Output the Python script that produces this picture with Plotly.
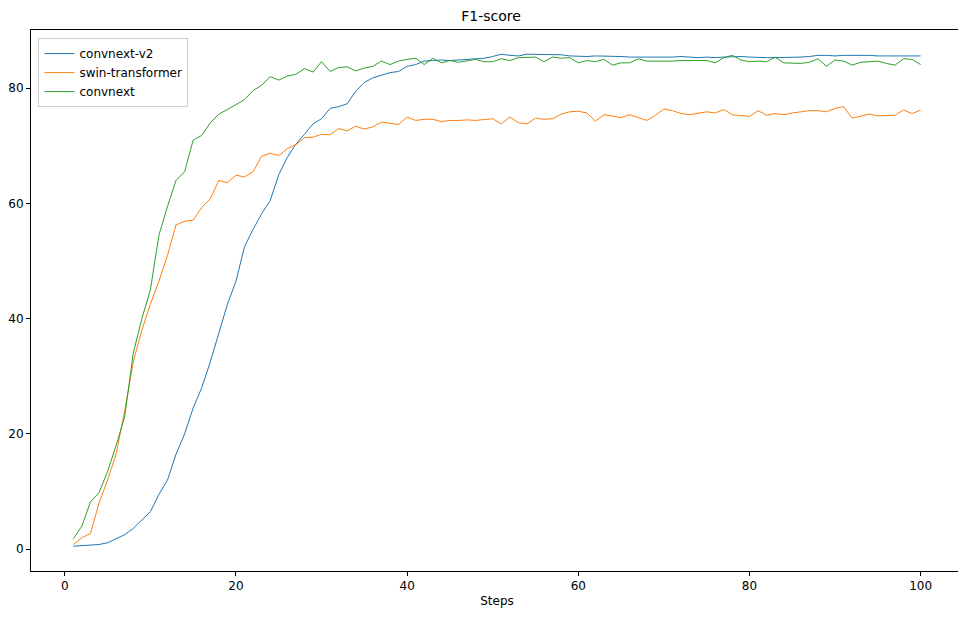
import plotly.graph_objects as go

steps = list(range(1, 101))
convnext_v2 = [0.5,0.6,0.7,0.8,1.1,1.8,2.5,3.6,5,6.5,9.5,12,16.5,20,24.5,28,32.5,37.5,42.5,46.5,
 52.5,55.5,58.2,60.5,65,68,70.3,72,73.8,74.7,76.5,76.8,77.3,79.5,81,81.8,82.3,82.7,82.9,83.8,
 84.1,84.7,84.8,84.9,84.8,84.9,85,85,85.2,85.5,85.9,85.7,85.6,85.9,85.9,85.8,85.9,85.8,85.6,
 85.5,85.5,85.6,85.6,85.5,85.5,85.4,85.4,85.3,85.4,85.4,85.4,85.5,85.4,85.3,85.4,85.3,85.4,85.5,85.5,
 85.4,85.3,85.3,85.3,85.3,85.3,85.4,85.5,85.7,85.7,85.6,85.7,85.7,85.8,85.7,85.6,85.6,85.6,85.6,85.5,85.6]
swin = [0.8,2,2.7,8,12,16.5,24,32.5,38,42.5,46.5,51,56.3,56.9,57.1,59.3,60.8,64,63.6,64.9,
 64.6,65.5,68.2,68.7,68.3,69.5,70.2,71.4,71.5,72,71.9,73,72.6,73.4,72.9,73.3,74.1,73.9,73.7,75,
 74.4,74.6,74.6,74.2,74.4,74.4,74.5,74.4,74.6,74.7,73.8,75,74,73.8,74.8,74.6,74.7,75.5,75.9,76,
 75.7,74.3,75.4,75.1,74.9,75.4,74.9,74.4,75.3,76.4,76.1,75.6,75.4,75.7,75.9,75.7,76.3,75.4,75.3,75.1,
 76.1,75.3,75.6,75.4,75.7,75.9,76.1,76.1,75.9,76.5,76.8,74.8,75.1,75.5,75.2,75.3,75.3,76.2,75.6,76.2]
convnext = [1.8,4,8.2,9.8,13.5,18,23,34,40,45,54.5,59.5,64,65.5,71,71.8,74,75.5,76.3,77.1,
 78,79.6,80.5,82,81.4,82.1,82.4,83.4,82.8,84.6,82.9,83.6,83.7,83,83.5,83.8,84.7,84.1,84.7,85,
 85.2,84.1,85.2,84.4,84.8,84.5,84.8,85,84.6,84.6,85.1,84.8,85.3,85.3,85.4,84.6,85.4,85.2,85.3,84.4,
 84.8,84.6,85,84,84.4,84.4,85.1,84.7,84.7,84.6,84.7,84.8,84.8,84.7,84.8,84.4,85.3,85.7,84.9,84.6,
 84.7,84.6,85.4,84.4,84.3,84.3,84.5,85.1,83.8,84.9,84.7,84,84.5,84.6,84.7,84.3,84,85.1,85,84.1]

fig = go.Figure()
for name, ys, c in [("convnext-v2", convnext_v2, "#1f77b4"),
                    ("swin-transformer", swin, "#ff7f0e"),
                    ("convnext", convnext, "#2ca02c")]:
    fig.add_trace(go.Scatter(x=steps, y=ys, mode="lines", name=name, line=dict(color=c, width=1)))

ax = dict(showgrid=False, zeroline=False, showline=True, mirror=True, linecolor="black",
          ticks="outside", ticklen=4, tickcolor="black", tickfont=dict(size=12, color="black"),
          automargin=False)
fig.update_layout(
    width=966, height=617, plot_bgcolor="white", paper_bgcolor="white",
    font=dict(family="DejaVu Sans", color="black"),
    margin=dict(l=23, r=11, t=22, b=54),
    title=dict(text="F1-score", x=0.5, xanchor="center", y=0.995, yanchor="top", font=dict(size=14)),
    xaxis=dict(**ax, range=[-3.95, 104.95], tickvals=[0,20,40,60,80,100],
               title=dict(text="Steps", font=dict(size=12), standoff=4)),
    yaxis=dict(**ax, range=[-3.8, 90.1], tickvals=[0,20,40,60,80]),
    legend=dict(x=0.008, y=0.985, xanchor="left", yanchor="top", bordercolor="#cccccc",
                borderwidth=1, bgcolor="rgba(255,255,255,0.8)", font=dict(size=12)),
    showlegend=True,
)
fig.write_html("out.html")
